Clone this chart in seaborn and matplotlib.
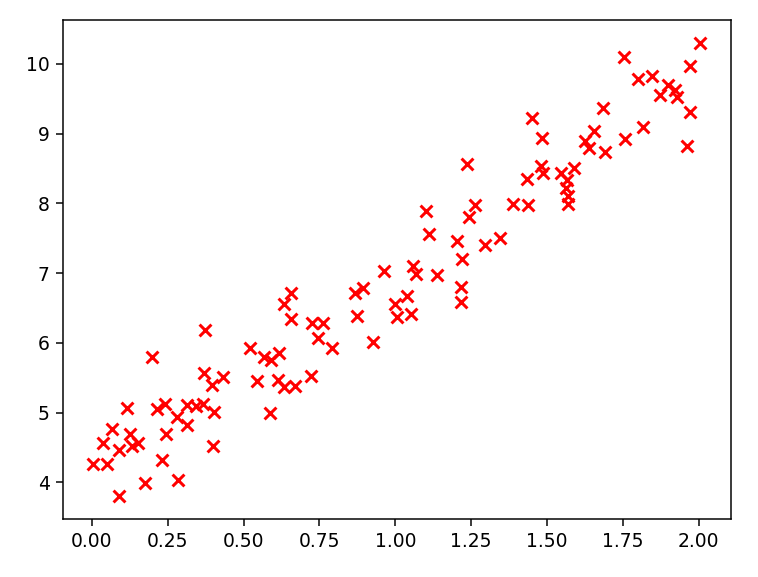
import numpy as np
import pandas as pd
import matplotlib
matplotlib.use("Agg")
import matplotlib.pyplot as plt
import seaborn as sns

# values
x_vals = [0.005, 0.05, 0.038, 0.068, 0.09, 0.09, 0.117, 0.126, 0.134, 0.152,
          0.177, 0.197, 0.216, 0.232, 0.24, 0.246, 0.281, 0.284, 0.314, 0.314,
          0.342, 0.367, 0.369, 0.372, 0.396, 0.404, 0.40, 0.431, 0.522, 0.544,
          0.566, 0.59, 0.617, 0.615, 0.632, 0.67, 0.721, 0.588, 0.632, 0.657,
          0.657, 0.725, 0.763, 0.744, 0.79, 0.867, 0.892, 0.873, 0.925, 0.962,
          1.00, 1.004, 1.04, 1.053, 1.058, 1.067, 1.102, 1.111, 1.137, 1.203,
          1.215, 1.215, 1.22, 1.236, 1.242, 1.264, 1.295, 1.345, 1.389, 1.438,
          1.434, 1.449, 1.483, 1.48, 1.488, 1.546, 1.567, 1.564, 1.568, 1.568,
          1.59, 1.626, 1.639, 1.655, 1.683, 1.691, 1.754, 1.757, 1.80, 1.817,
          1.846, 1.872, 1.90, 1.923, 1.929, 1.96, 1.97, 1.97, 2.005]
y_vals = [4.27, 4.27, 4.56, 4.76, 4.46, 3.80, 5.07, 4.70, 4.52, 4.56,
          3.99, 5.80, 5.05, 4.32, 5.12, 4.69, 4.94, 4.03, 5.11, 4.82,
          5.09, 5.13, 5.57, 6.19, 5.39, 5.01, 4.52, 5.51, 5.93, 5.46,
          5.80, 5.75, 5.85, 5.47, 5.37, 5.38, 5.52, 4.99, 6.56, 6.72,
          6.34, 6.29, 6.29, 6.07, 5.93, 6.72, 6.78, 6.39, 6.01, 7.03,
          6.55, 6.37, 6.67, 6.42, 7.10, 6.99, 7.89, 7.56, 6.97, 7.46,
          6.80, 6.58, 7.20, 8.57, 7.80, 7.98, 7.40, 7.51, 7.99, 7.98,
          8.35, 9.22, 8.93, 8.54, 8.43, 8.44, 8.33, 8.22, 8.10, 7.99,
          8.50, 8.89, 8.80, 9.03, 9.36, 8.73, 10.10, 8.92, 9.78, 9.10,
          9.82, 9.55, 9.70, 9.62, 9.53, 8.82, 9.31, 9.97, 10.30]

df = pd.DataFrame({'x': x_vals, 'y': y_vals})

sns.set_style("ticks")
plt.rcParams['font.family'] = ['DejaVu Sans']

fig, ax = plt.subplots(figsize=(758 / 135, 577 / 135), dpi=135)
fig.subplots_adjust(left=0.083, right=0.964, top=0.965, bottom=0.1005)

sns.scatterplot(data=df, x='x', y='y', marker='x', color='red', s=40,
                linewidth=1.6, ax=ax)

ax.set_xlabel('')
ax.set_ylabel('')
ax.set_xticks([0.0, 0.25, 0.5, 0.75, 1.0, 1.25, 1.5, 1.75, 2.0])
ax.tick_params(labelsize=10, colors='black')
for sp in ax.spines.values():
    sp.set_visible(True)
    sp.set_color('black')

fig.savefig('out.png', dpi=135)
